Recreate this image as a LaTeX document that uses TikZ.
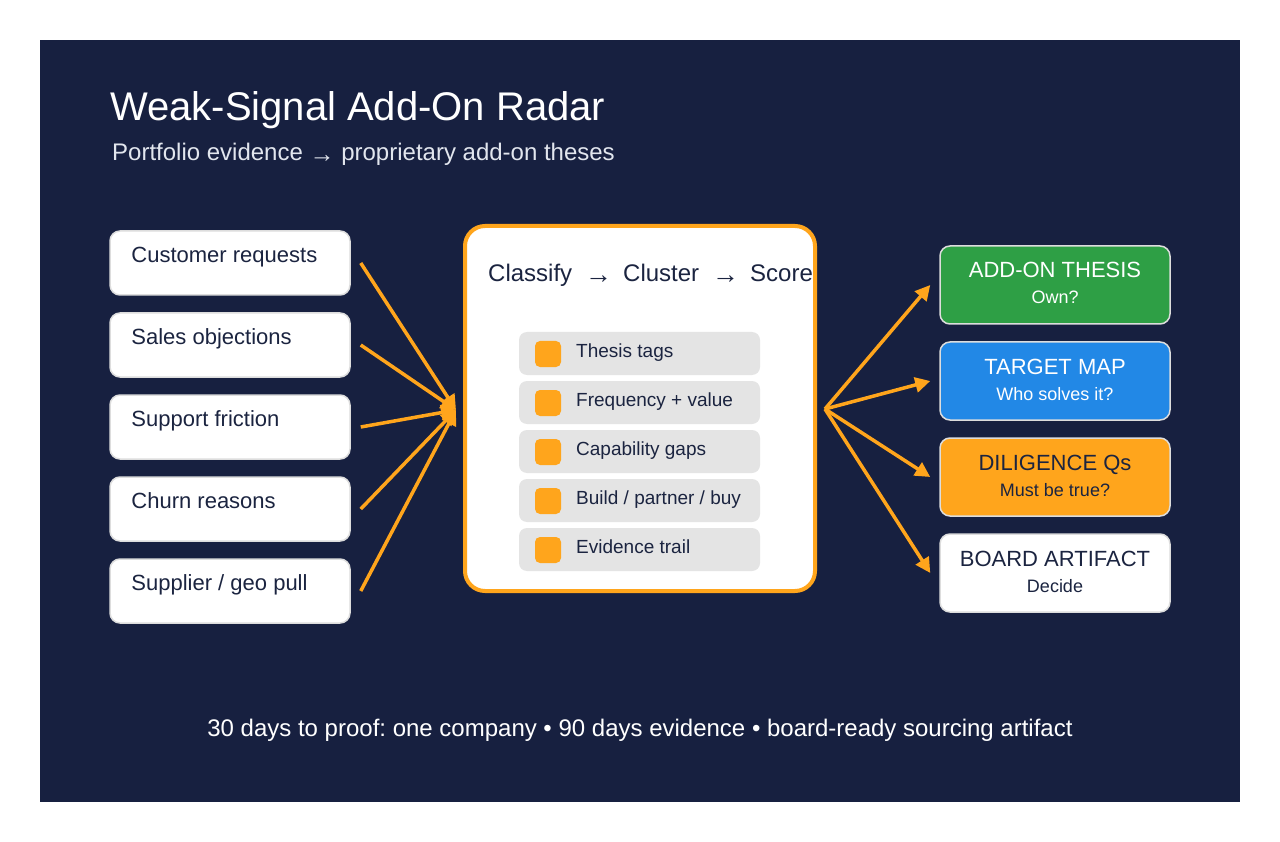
\documentclass[tikz,border=0pt]{standalone}
\usepackage{fontspec}
\setmainfont{Liberation Sans}
\usetikzlibrary{arrows.meta,calc}
\definecolor{navy}{HTML}{172040}
\definecolor{ink}{HTML}{1B2440}
\definecolor{orng}{HTML}{FFA51C}
\definecolor{grn}{HTML}{2E9F45}
\definecolor{blu}{HTML}{2288E6}
\definecolor{edge}{HTML}{DDDDDD}
\definecolor{itemgray}{HTML}{E4E4E4}
\definecolor{subt}{HTML}{E2E6EE}
\newcommand{\fs}[1]{\fontsize{#1}{#1}\selectfont}
\frenchspacing
\tikzset{
  x=1pt,y=-1pt,
  srcbox/.style={draw=edge,line width=1.5pt,fill=white,rounded corners=10pt,minimum width=240pt,minimum height=64pt,inner sep=0pt},
  srctext/.style={anchor=base west,inner sep=0pt,text=ink,font=\fs{22}},
  itembox/.style={fill=itemgray,rounded corners=8pt,minimum width=241pt,minimum height=43pt,inner sep=0pt},
  itemsq/.style={fill=orng,rounded corners=5pt,minimum width=26pt,minimum height=26pt,inner sep=0pt},
  itemtext/.style={anchor=base west,inner sep=0pt,text=ink,font=\fs{19}},
  outbox/.style={draw=edge,line width=1.5pt,rounded corners=10pt,minimum width=230pt,minimum height=78pt,inner sep=0pt},
  outtitle/.style={anchor=base,inner sep=0pt,font=\fs{22}},
  outsub/.style={anchor=base,inner sep=0pt,font=\fs{18}},
  flow/.style={draw=orng,line width=3.5pt,-{Triangle[length=15pt,width=15pt]}},
  hdr/.style={anchor=base west,inner sep=0pt,text=ink,font=\fs{24}},
}
\begin{document}
\begin{tikzpicture}
\useasboundingbox (0,0) rectangle (1280,842);
\fill[white] (0,0) rectangle (1280,842);
\fill[navy] (40,40) rectangle (1240,802);
% title
\node[anchor=base west,inner sep=0pt,text=white,font=\fs{40}] (title) at (110,121) {Weak-Signal Add-On Radar};
\node[anchor=base west,inner sep=0pt,text=subt,font=\fs{24}] (subtitle) at (112,161) {Portfolio evidence {\fs{25}\raisebox{-1.5pt}{→}} proprietary add-on theses};
% sources
\foreach \i/\t in {1/{Customer requests},2/{Sales objections},3/{Support friction},4/{Churn reasons},5/{Supplier / geo pull}}{
  \node[srcbox] (L\i) at (230,{263+82*(\i-1)}) {};
  \node[srctext] (Lt\i) at ($(L\i.north west)+(22,32)$) {\t};
}
% center box
\node[draw=orng,line width=4pt,fill=white,rounded corners=20pt,minimum width=350pt,minimum height=365pt,inner sep=0pt] (proc) at (640,408.5) {};
\node[hdr] (h1) at (488,282) {Classify};
\node[hdr,font=\fs{27}] (a1) at (585,284) {→};
\node[hdr] (h2) at (623,282) {Cluster};
\node[hdr,font=\fs{27}] (a2) at (712,284) {→};
\node[hdr] (h3) at (750,282) {Score};
\foreach \i/\t in {1/{Thesis tags},2/{Frequency + value},3/{Capability gaps},4/{Build / partner / buy},5/{Evidence trail}}{
  \node[itembox] (I\i) at (639.5,{353.5+49*(\i-1)}) {};
  \node[itemsq] (S\i) at (548,{354+49*(\i-1)}) {};
  \node[itemtext] (It\i) at (576,{357+49*(\i-1)}) {\t};
}
% outputs
\node[outbox,fill=grn] (R1) at (1055,285) {};
\node[outtitle,text=white] (R1t) at (1055,278) {ADD-ON THESIS};
\node[outsub,text=white] (R1s) at (1055,304) {Own?};
\node[outbox,fill=blu] (R2) at (1055,381) {};
\node[outtitle,text=white] (R2t) at (1055,374) {TARGET MAP};
\node[outsub,text=white] (R2s) at (1055,400) {Who solves it?};
\node[outbox,fill=orng] (R3) at (1055,477) {};
\node[outtitle,text=ink] (R3t) at (1055,470) {DILIGENCE Qs};
\node[outsub,text=ink] (R3s) at (1055,496) {Must be true?};
\node[outbox,fill=white] (R4) at (1055,573) {};
\node[outtitle,text=ink] (R4t) at (1055,566) {BOARD ARTIFACT};
\node[outsub,text=ink] (R4s) at (1055,592) {Decide};
% connectors
\coordinate (conv) at (456,410);
\coordinate (fan) at (825,409);
\foreach \i in {1,...,5}{
  \draw[flow] ([xshift=10pt]L\i.east) -- (conv);
}
\foreach \i in {1,...,4}{
  \draw[flow] (fan) -- ([xshift=-9pt]R\i.west);
}
% footer
\node[anchor=base,inner sep=0pt,text=white,font=\fs{24}] (footer) at (640,736) {30 days to proof: one company • 90 days evidence • board-ready sourcing artifact};
\end{tikzpicture}
\end{document}
